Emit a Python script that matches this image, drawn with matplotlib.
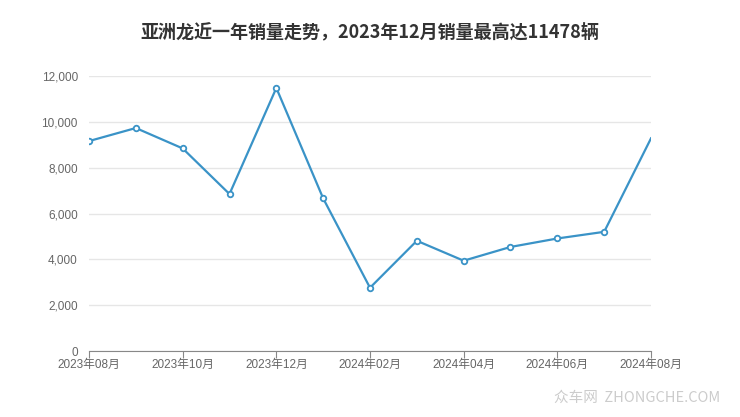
import matplotlib
matplotlib.use("Agg")
import matplotlib.pyplot as plt
from matplotlib.ticker import FuncFormatter

plt.rcParams['font.family'] = ['Noto Sans CJK SC', 'DejaVu Sans']

months = ["2023年08月", "2023年09月", "2023年10月", "2023年11月", "2023年12月",
          "2024年01月", "2024年02月", "2024年03月", "2024年04月", "2024年05月",
          "2024年06月", "2024年07月", "2024年08月"]
sales = [9160, 9730, 8840, 6850, 11478, 6660, 2760, 4810, 3940, 4540, 4910, 5200, 9280]
yticks = [0, 2000, 4000, 6000, 8000, 10000, 12000]

title = "亚洲龙近一年销量走势，2023年12月销量最高达11478辆"
line_color = "#3a93c7"
grey = "#666666"
tick_fonts = ['Liberation Sans', 'Noto Sans CJK SC']

fig = plt.figure(figsize=(7.4, 4.17), dpi=100)
ax = fig.add_axes([89/740, 1-351/417, (651-89)/740, (351-76)/417])

x = list(range(len(months)))
ax.plot(x, sales, color=line_color, lw=1.6, zorder=3)
ax.plot(x[:-1], sales[:-1], ls='none', marker='o', ms=4, mfc='white',
        mec=line_color, mew=1.3, zorder=4)

ax.set_xlim(0, len(months) - 1)
ax.set_ylim(0, 12000)
ax.set_yticks(yticks)
ax.yaxis.set_major_formatter(FuncFormatter(lambda v, p: f"{int(v):,}"))
ax.set_xticks(x[::2])
ax.set_xticklabels(months[::2])
for lab in ax.get_xticklabels() + ax.get_yticklabels():
    lab.set_family(tick_fonts)

ax.grid(axis='y', color='#e6e6e6', lw=1)
ax.set_axisbelow(True)
for s in ['top', 'right', 'left']:
    ax.spines[s].set_visible(False)
ax.spines['bottom'].set_color('#888888')
ax.tick_params(axis='y', length=0, labelsize=8.5, labelcolor=grey, pad=8)
ax.tick_params(axis='x', length=5, color='#888888', labelsize=8.5,
               labelcolor=grey, pad=1)

fig.text(0.5, 1-32/417, title, ha='center', va='center', fontsize=13,
         fontweight='bold', color='#333333')
fig.text(720/740, 1-398/417, "众车网  ZHONGCHE.COM", ha='right', va='center',
         fontsize=10.5, color='#cccccc')

fig.savefig("out.png", dpi=100)
